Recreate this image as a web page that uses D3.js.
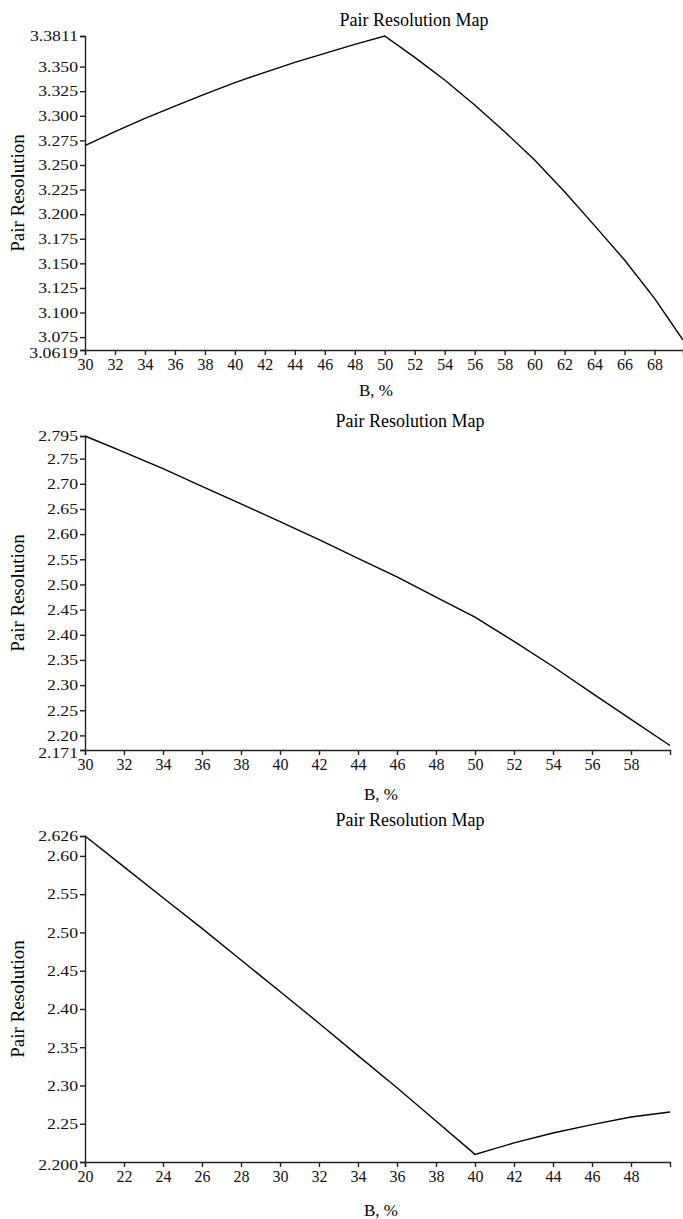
<!DOCTYPE html>
<html>
<head>
<meta charset="utf-8">
<script src="https://cdn.jsdelivr.net/npm/d3@7"></script>
<style>
  body { margin: 0; background: #fff; }
  svg, svg text { font-family: "Liberation Serif", "DejaVu Serif", serif; }
  svg { display: block; }
</style>
</head>
<body>
<svg id="chart" width="683" height="1219"></svg>
<script>
// chart 1
const b1 = [30, 32, 34, 36, 38, 40, 42, 44, 46, 48, 50, 52, 54, 56, 58, 60, 62, 64, 66, 68, 69.9];
const res1 = [3.2696, 3.2838, 3.2974, 3.3099, 3.3221, 3.3337, 3.3442, 3.3543, 3.3635, 3.3726, 3.3811,
              3.3594, 3.3364, 3.3110, 3.2838, 3.2550, 3.2228, 3.1883, 3.1534, 3.1144, 3.0720];
const y1Ticks = [3.0619, 3.075, 3.100, 3.125, 3.150, 3.175, 3.200, 3.225, 3.250, 3.275, 3.300, 3.325, 3.350, 3.3811];
const y1Labels = ['3.0619', '3.075', '3.100', '3.125', '3.150', '3.175', '3.200', '3.225', '3.250', '3.275', '3.300', '3.325', '3.350', '3.3811'];
const x1Ticks = d3.range(30, 69, 2);

// chart 2
const b2 = [30, 32, 34, 36, 38, 40, 42, 44, 46, 48, 50, 52, 54, 56, 58, 60];
const res2 = [2.795, 2.763, 2.730, 2.695, 2.660, 2.625, 2.589, 2.552, 2.515, 2.475, 2.435, 2.387, 2.337, 2.284, 2.232, 2.180];
const y2Ticks = [2.171, 2.20, 2.25, 2.30, 2.35, 2.40, 2.45, 2.50, 2.55, 2.60, 2.65, 2.70, 2.75, 2.795];
const y2Labels = ['2.171', '2.20', '2.25', '2.30', '2.35', '2.40', '2.45', '2.50', '2.55', '2.60', '2.65', '2.70', '2.75', '2.795'];
const x2Ticks = d3.range(30, 59, 2);

// chart 3
const b3 = [20, 22, 24, 26, 28, 30, 32, 34, 36, 38, 40, 42, 44, 46, 48, 50];
const res3 = [2.626, 2.5857, 2.5453, 2.5053, 2.464, 2.4227, 2.3814, 2.339, 2.297, 2.2536, 2.210,
              2.2249, 2.2379, 2.2488, 2.2588, 2.2653];
const y3Ticks = [2.200, 2.25, 2.30, 2.35, 2.40, 2.45, 2.50, 2.55, 2.60, 2.626];
const y3Labels = ['2.200', '2.25', '2.30', '2.35', '2.40', '2.45', '2.50', '2.55', '2.60', '2.626'];
const x3Ticks = d3.range(20, 49, 2);

const svg = d3.select('#chart');
const serif = '"Liberation Serif", "DejaVu Serif", serif';

const panels = [
  {b: b1, r: res1, yt: y1Ticks, yl: y1Labels, xt: x1Ticks, xd: [30, 69.9], top: 36, bottom: 350, right: 683,
   titleX: 414, titleY: 26, xlabX: 376, xlabY: 396},
  {b: b2, r: res2, yt: y2Ticks, yl: y2Labels, xt: x2Ticks, xd: [30, 60], top: 436, bottom: 750, right: 670,
   titleX: 410, titleY: 427, xlabX: 381, xlabY: 800},
  {b: b3, r: res3, yt: y3Ticks, yl: y3Labels, xt: x3Ticks, xd: [20, 50], top: 836, bottom: 1162, right: 670,
   titleX: 410, titleY: 826, xlabX: 381, xlabY: 1216}
];

const left = 85;

panels.forEach(p => {
  const x = d3.scaleLinear().domain(p.xd).range([left, p.right]);
  const y = d3.scaleLinear().domain([p.yt[0], p.yt[p.yt.length - 1]]).range([p.bottom, p.top]);

  const g = svg.append('g');

  g.append('text')
   .attr('x', p.titleX)
   .attr('y', p.titleY)
   .attr('text-anchor', 'middle')
   .attr('font-size', 18)
   .style('font-family', serif)
   .text('Pair Resolution Map');

  const yAxis = d3.axisLeft(y)
                  .tickValues(p.yt)
                  .tickFormat((d, i) => p.yl[i])
                  .tickSizeOuter(0)
                  .tickSize(5)
                  .tickPadding(2);

  const xAxis = d3.axisBottom(x)
                  .tickValues(p.xt)
                  .tickFormat(d3.format('d'))
                  .tickSizeOuter(0)
                  .tickSize(5)
                  .tickPadding(4);

  const ya = g.append('g')
              .attr('transform', 'translate(' + left + ',0)')
              .call(yAxis);

  const xa = g.append('g')
              .attr('transform', 'translate(0,' + p.bottom + ')')
              .call(xAxis);

  [ya, xa].forEach(a => {
    a.attr('font-family', null).style('font-family', serif);
    a.selectAll('path, line').attr('stroke', '#222').attr('stroke-width', 1.4);
    a.selectAll('text')
     .attr('fill', '#111')
     .style('font-family', serif);
  });

  xa.selectAll('text').attr('font-size', 16).style('font-size', '16px');

  // y tick labels in the picture are drawn wide; stretch them a little
  ya.selectAll('text')
    .attr('font-size', 15)
    .style('font-size', '15px')
    .each(function() {
      const w = this.getComputedTextLength();
      d3.select(this)
        .attr('textLength', w * 1.18)
        .attr('lengthAdjust', 'spacingAndGlyphs');
    });

  // bottom label sits a touch low, as in the picture
  ya.selectAll('.tick').filter((d, i) => i === 0)
    .select('text').attr('dy', '0.5em');

  g.append('text')
   .attr('x', p.xlabX)
   .attr('y', p.xlabY)
   .attr('text-anchor', 'middle')
   .attr('font-size', 17)
   .style('font-family', serif)
   .text('B, %');

  g.append('text')
   .attr('transform', 'translate(24,' + ((p.top + p.bottom) / 2) + ') rotate(-90)')
   .attr('text-anchor', 'middle')
   .attr('font-size', 19)
   .style('font-family', serif)
   .text('Pair Resolution');

  const line = d3.line()
                 .x(d => x(d[0]))
                 .y(d => y(d[1]));

  g.append('path')
   .datum(p.b.map((v, i) => [v, p.r[i]]))
   .attr('d', line)
   .attr('fill', 'none')
   .attr('stroke', '#000')
   .attr('stroke-width', 1.4);
});
</script>
</body>
</html>
